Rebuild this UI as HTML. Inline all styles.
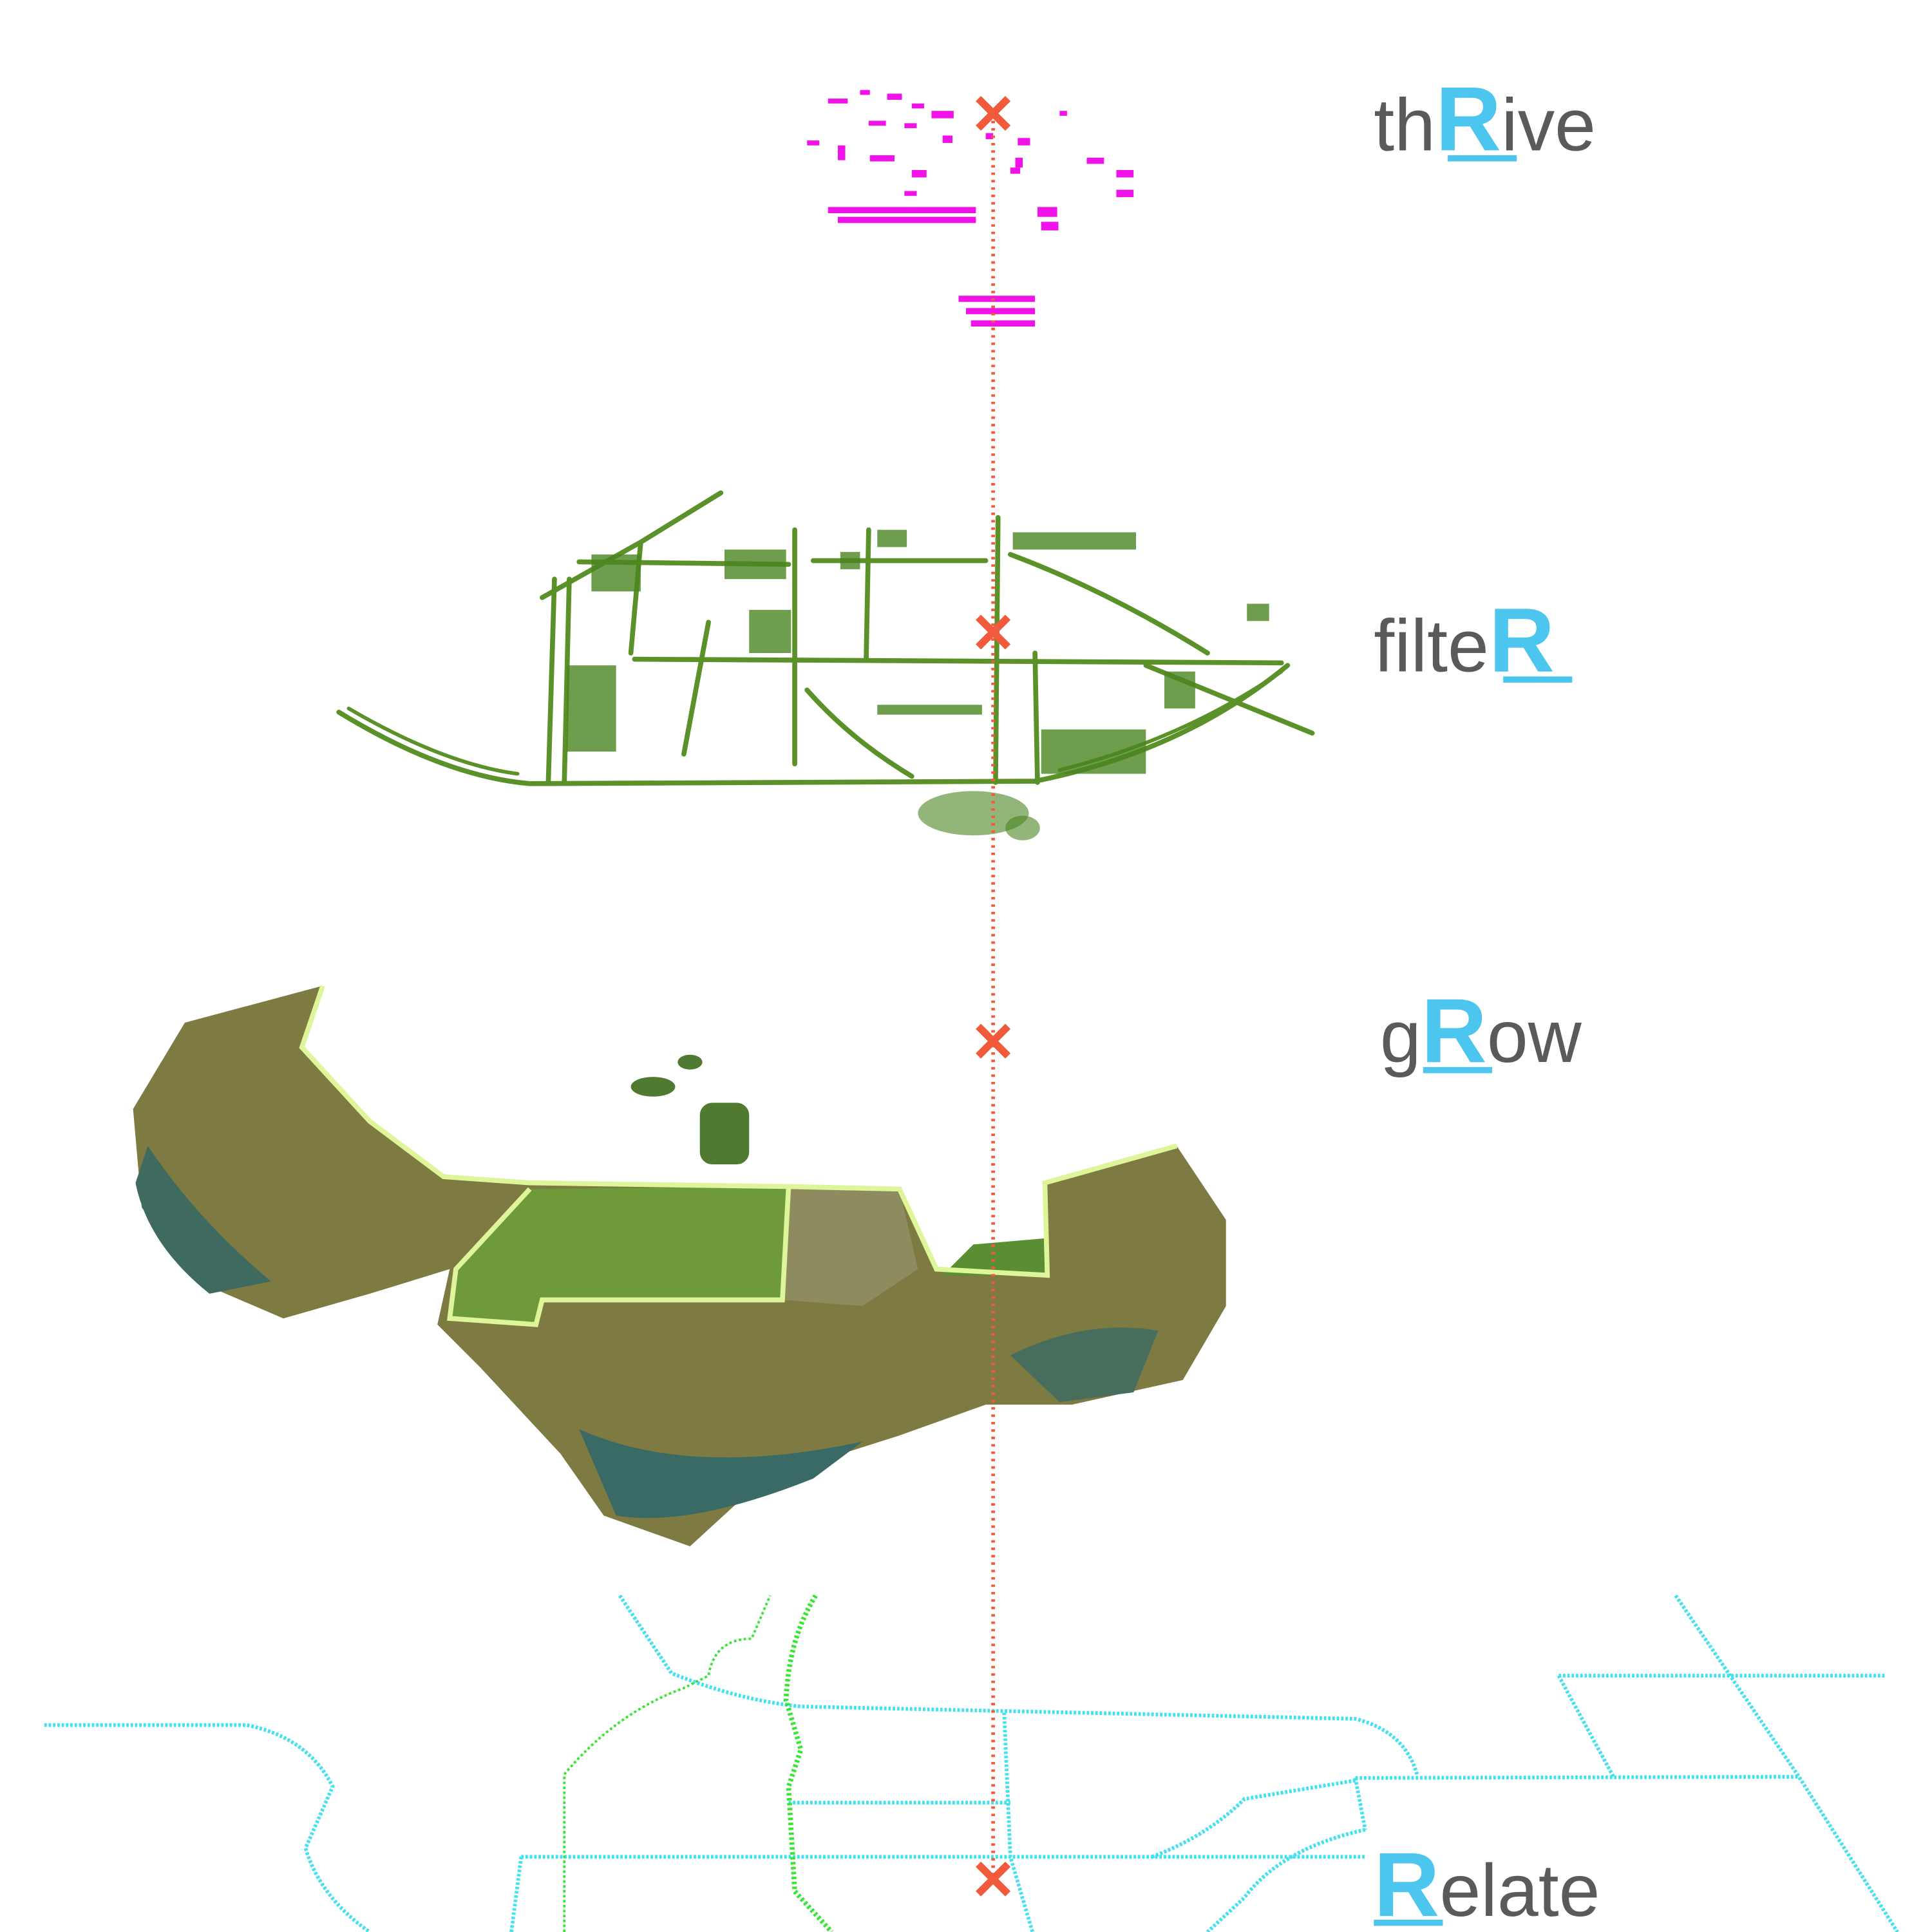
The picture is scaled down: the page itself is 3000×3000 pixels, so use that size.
<!DOCTYPE html>
<html><head><meta charset="utf-8"><style>
html,body{margin:0;padding:0;background:#fff;}
svg{display:block;}
.t{font-family:"Liberation Sans",sans-serif;font-size:60px;fill:#5a5a5a;}
.r{fill:#4cc6ee;font-weight:bold;}
</style></head><body>
<svg width="3000" height="3000" viewBox="0 0 1568 1568" xmlns="http://www.w3.org/2000/svg">
<rect width="1568" height="1568" fill="#fff"/>

<g fill="#f012e8">
<rect x="672" y="80" width="16" height="4"/><rect x="698" y="73" width="8" height="4"/><rect x="720" y="76" width="12" height="5"/>
<rect x="740" y="84" width="10" height="4"/><rect x="756" y="90" width="18" height="6"/><rect x="705" y="98" width="14" height="4"/>
<rect x="734" y="100" width="10" height="4"/><rect x="765" y="110" width="8" height="6"/><rect x="655" y="114" width="10" height="4"/>
<rect x="680" y="118" width="6" height="12"/><rect x="706" y="126" width="20" height="5"/><rect x="740" y="138" width="12" height="6"/>
<rect x="800" y="108" width="6" height="5"/><rect x="826" y="112" width="10" height="6"/><rect x="824" y="128" width="6" height="8"/>
<rect x="860" y="90" width="6" height="4"/><rect x="882" y="128" width="14" height="5"/><rect x="906" y="138" width="14" height="6"/>
<rect x="906" y="154" width="14" height="6"/><rect x="820" y="136" width="8" height="5"/><rect x="734" y="155" width="10" height="4"/>
<rect x="672" y="168" width="120" height="5"/><rect x="680" y="176" width="112" height="5"/><rect x="842" y="168" width="16" height="8"/>
<rect x="845" y="180" width="14" height="7"/><rect x="778" y="240" width="62" height="5"/><rect x="784" y="250" width="56" height="5"/>
<rect x="788" y="260" width="52" height="5"/>
</g>

<g fill="none" stroke="#5a9128" stroke-width="4" stroke-linecap="round">
<path d="M275,578 Q360,630 430,636 L840,634 Q960,610 1045,540"/>
<path d="M283,575 Q360,620 420,628" stroke-width="3"/>
<path d="M860,625 Q960,600 1040,545" stroke-width="3"/>
<path d="M450,470 L445,635"/><path d="M462,470 L458,635"/>
<path d="M520,440 L512,530"/><path d="M575,505 L555,612"/>
<path d="M645,430 L645,620"/><path d="M705,430 L703,535"/>
<path d="M810,420 L808,635"/><path d="M840,530 L842,635"/>
<path d="M515,535 L1040,538"/><path d="M470,456 L640,458"/>
<path d="M440,485 L520,440 L585,400"/><path d="M655,560 Q690,600 740,630"/>
<path d="M820,450 Q900,480 980,530"/><path d="M930,540 L1065,595"/>
<path d="M660,455 L800,455"/>
</g>
<g fill="#4a8420" fill-opacity="0.8">
<rect x="588" y="446" width="50" height="24"/><rect x="608" y="495" width="34" height="35"/>
<rect x="460" y="540" width="40" height="70"/><rect x="845" y="592" width="85" height="36"/>
<rect x="822" y="432" width="100" height="14"/><rect x="712" y="430" width="24" height="14"/>
<rect x="480" y="450" width="40" height="30"/><rect x="945" y="545" width="25" height="30"/>
<rect x="712" y="572" width="85" height="8"/>
<rect x="1012" y="490" width="18" height="14"/><rect x="682" y="448" width="16" height="14"/>
</g>
<g fill="#4a8420" fill-opacity="0.6">
<ellipse cx="790" cy="660" rx="45" ry="18"/><ellipse cx="830" cy="672" rx="14" ry="10"/>
</g>

<path d="M108,900 L150,830 L262,800 L245,850 L300,910 L360,955 L430,960 L640,963 L730,965 L760,1030 L850,1035 L848,960 L955,930 L995,990 L995,1060 L960,1120 L870,1140 L800,1140 L730,1165 L620,1200 L560,1255 L490,1230 L455,1180 L390,1110 L355,1075 L365,1030 L300,1050 L230,1070 L160,1040 L115,980 Z" fill="#7d7a42"/>
<path d="M120,930 Q160,990 220,1040 L170,1050 Q120,1010 110,960 Z" fill="#3f6a60"/>
<path d="M470,1160 Q560,1200 700,1170 L660,1200 Q560,1240 500,1230 Z" fill="#3a6a66"/>
<path d="M820,1100 Q880,1070 940,1080 L920,1130 L860,1138 Z" fill="#476e5c"/>
<path d="M370,1030 L430,965 L640,963 L635,1055 L440,1055 L435,1075 L365,1070 Z" fill="#6f9a3a"/>
<path d="M640,963 L730,965 L745,1030 L700,1060 L635,1055 Z" fill="#8e8c5e"/>
<path d="M765,1035 L848,1035 L848,1005 L790,1010 Z" fill="#5a8e34"/>
<g fill="none" stroke="#dff59a" stroke-width="4">
<path d="M262,800 L245,850 L300,910 L360,955 L430,960 L640,963 L635,1055 L440,1055 L435,1075 L365,1070 L370,1030 L430,965"/>
<path d="M640,963 L730,965 L760,1030 L850,1035 L848,960 L955,930"/>
</g>
<g fill="#4f7a30"><ellipse cx="530" cy="882" rx="18" ry="8"/><rect x="568" y="895" width="40" height="50" rx="10"/><ellipse cx="560" cy="862" rx="10" ry="6"/></g>

<g fill="none" stroke="#3fe2f0" stroke-width="3" stroke-dasharray="2 1.5">
<path d="M36,1400 L200,1400 Q250,1410 270,1450 L248,1500 Q260,1540 300,1568"/>
<path d="M503,1295 L545,1358 Q600,1380 650,1385 L1100,1395 Q1140,1405 1150,1440"/>
<path d="M1100,1443 L1460,1442"/><path d="M1100,1443 L1108,1485"/>
<path d="M1265,1360 L1530,1360"/><path d="M1265,1360 L1310,1443"/>
<path d="M1360,1295 L1460,1442 L1540,1568"/>
<path d="M423,1507 L1108,1507"/><path d="M423,1507 L415,1568"/>
<path d="M640,1463 L820,1463"/><path d="M815,1390 L820,1507 L838,1568"/>
<path d="M935,1507 Q980,1490 1010,1460 L1100,1445"/><path d="M1108,1485 Q1040,1500 1010,1540 L980,1568"/>
</g>
<g fill="none" stroke="#37e632" stroke-dasharray="2 2">
<path d="M458,1568 L458,1440 Q500,1390 555,1370 L575,1360 Q580,1330 610,1330 L625,1295" stroke-width="2"/>
<path d="M662,1295 Q640,1330 638,1380 L650,1420 L640,1450 L645,1535 L675,1568" stroke-width="4"/>
</g>

<line x1="806" y1="92" x2="806" y2="1525" stroke="#f15a3a" stroke-width="3" stroke-dasharray="2 4"/>
<g stroke="#f15a3a" stroke-width="6">
<path d="M794,80 L818,104 M818,80 L794,104"/>
<path d="M794,501 L818,525 M818,501 L794,525"/>
<path d="M794,833 L818,857 M818,833 L794,857"/>
<path d="M794,1513 L818,1537 M818,1513 L794,1537"/>
</g>

<text class="t" x="1115" y="122">th<tspan class="r" font-size="74">R</tspan>ive</text>
<rect x="1175" y="126" width="56" height="5" fill="#4cc6ee"/>
<text class="t" x="1115" y="545">filte<tspan class="r" font-size="74">R</tspan></text>
<rect x="1220" y="549" width="56" height="5" fill="#4cc6ee"/>
<text class="t" x="1120" y="862">g<tspan class="r" font-size="74">R</tspan>ow</text>
<rect x="1155" y="866" width="56" height="5" fill="#4cc6ee"/>
<text class="t" x="1115" y="1555"><tspan class="r" font-size="74">R</tspan>elate</text>
<rect x="1115" y="1558" width="56" height="5" fill="#4cc6ee"/>
</svg>
</body></html>
